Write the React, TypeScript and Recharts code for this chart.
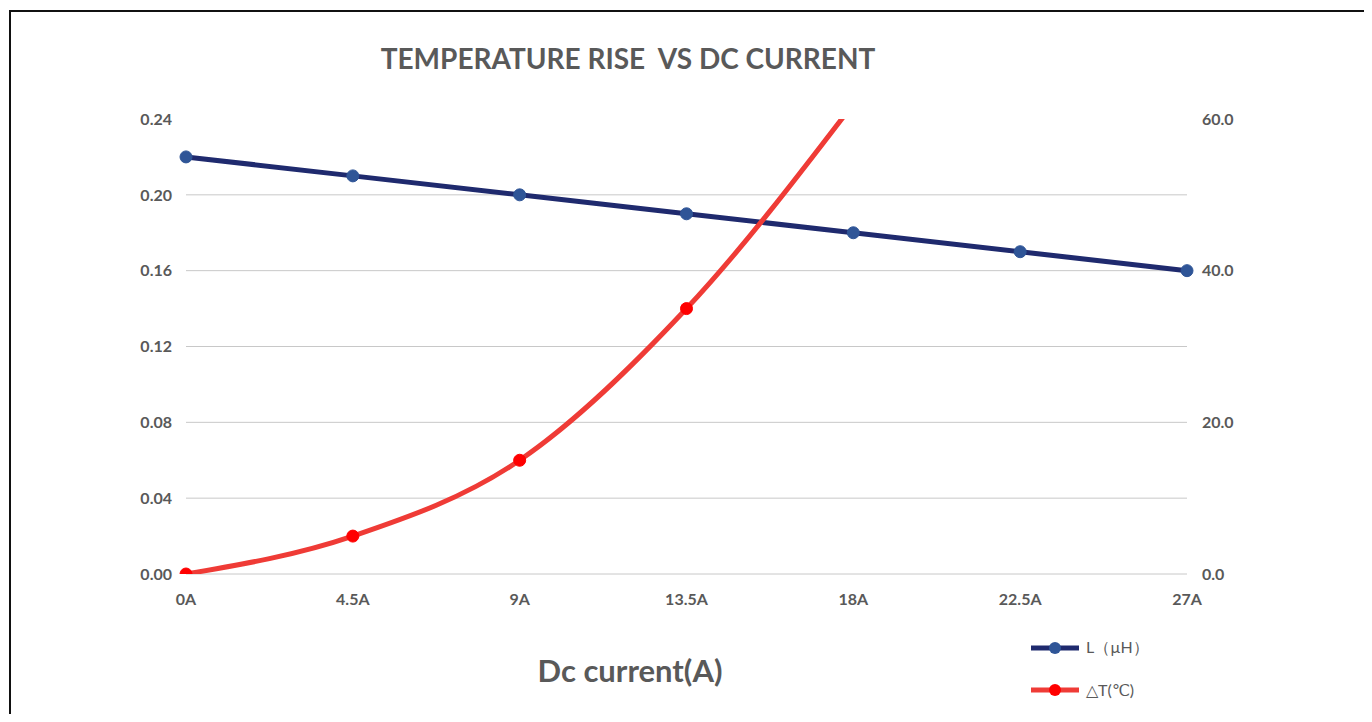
import { Line, LineChart, ReferenceLine, XAxis, YAxis } from 'recharts';

const currents = ['0A', '4.5A', '9A', '13.5A', '18A', '22.5A', '27A'];
const inductance = [0.22, 0.21, 0.2, 0.19, 0.18, 0.17, 0.16];
const tempRise: (number | null)[] = [0, 5, 15, 35, 62, null, null];

const leftTicks = [0, 0.04, 0.08, 0.12, 0.16, 0.2, 0.24];
const rightTicks = [0, 20, 40, 60];
const gridValues = [0, 0.04, 0.08, 0.12, 0.16, 0.2];

const data = currents.map((c, i) => ({ current: c, L: inductance[i], dT: tempRise[i] }));

const FONT = 'Lato, "Open Sans", sans-serif';
const GREY = '#595959';
const NAVY = '#1f2a6e';
const NAVY_DOT = '#2f5597';
const RED = '#ef3b36';
const RED_DOT = '#ff0000';

const legendItems = [
  { label: 'L（µH）', line: NAVY, dot: NAVY_DOT },
  { label: '△T(℃)', line: RED, dot: RED_DOT },
];

const ChartLegend = () => (
  <div style={{ fontFamily: FONT, color: GREY, fontSize: 16 }}>
    {legendItems.map((item) => (
      <div key={item.label} style={{ display: 'flex', alignItems: 'center', height: 42 }}>
        <svg width={50} height={14}>
          <line x1={0} y1={7} x2={48} y2={7} stroke={item.line} strokeWidth={5} />
          <circle cx={24} cy={7} r={6} fill={item.dot} />
        </svg>
        <span style={{ marginLeft: 5 }}>{item.label}</span>
      </div>
    ))}
  </div>
);

const tickStyle = { fill: GREY, fontSize: 16, fontWeight: 700, fontFamily: FONT };

export default function App() {
  return (
    <div style={{ position: 'relative', width: 1372, height: 722, margin: -8, background: '#fff', overflow: 'hidden' }}>
      <div
        style={{
          position: 'absolute',
          left: 9,
          top: 10,
          width: 1357,
          height: 730,
          border: '2px solid #111',
        }}
      />
      <div
        style={{
          position: 'absolute',
          left: 328,
          top: 41,
          width: 600,
          textAlign: 'center',
          fontFamily: FONT,
          fontWeight: 700,
          fontSize: 28,
          color: GREY,
          whiteSpace: 'pre',
        }}
      >
        {'TEMPERATURE RISE  VS DC CURRENT'}
      </div>
      <div
        style={{
          position: 'absolute',
          left: 480,
          top: 651,
          width: 300,
          textAlign: 'center',
          fontFamily: FONT,
          fontWeight: 700,
          fontSize: 31,
          color: GREY,
        }}
      >
        Dc current(A)
      </div>
      <div style={{ position: 'absolute', top: 0, left: 0 }}>
        <LineChart
          width={1372}
          height={722}
          data={data}
          margin={{ top: 119, right: 125, bottom: 118, left: 126 }}
        >
          {gridValues.map((v) => (
            <ReferenceLine key={v} yAxisId="left" y={v} stroke="#c8c8c8" strokeWidth={1} />
          ))}
          <XAxis
            dataKey="current"
            height={30}
            axisLine={false}
            tickLine={false}
            tickSize={0}
            tickMargin={20}
            interval={0}
            tick={tickStyle}
          />
          <YAxis
            yAxisId="left"
            orientation="left"
            width={60}
            domain={[0, 0.24]}
            ticks={leftTicks}
            allowDataOverflow
            axisLine={false}
            tickLine={false}
            tickSize={0}
            tickMargin={14}
            tickFormatter={(v: number) => v.toFixed(2)}
            tick={tickStyle}
          />
          <YAxis
            yAxisId="right"
            orientation="right"
            width={60}
            domain={[0, 60]}
            ticks={rightTicks}
            allowDataOverflow
            axisLine={false}
            tickLine={false}
            tickSize={0}
            tickMargin={15}
            tickFormatter={(v: number) => v.toFixed(1)}
            tick={tickStyle}
          />
          <Line
            yAxisId="left"
            type="linear"
            dataKey="L"
            stroke={NAVY}
            strokeWidth={5}
            dot={{ r: 6, fill: NAVY_DOT, stroke: NAVY_DOT, strokeWidth: 1 }}
            isAnimationActive={false}
          />
          <Line
            yAxisId="right"
            type="monotone"
            dataKey="dT"
            stroke={RED}
            strokeWidth={5}
            connectNulls={false}
            dot={{ r: 6, fill: RED_DOT, stroke: RED_DOT, strokeWidth: 1 }}
            isAnimationActive={false}
          />
        </LineChart>
      </div>
      <div style={{ position: 'absolute', left: 1031, top: 627 }}>
        <ChartLegend />
      </div>
    </div>
  );
}
